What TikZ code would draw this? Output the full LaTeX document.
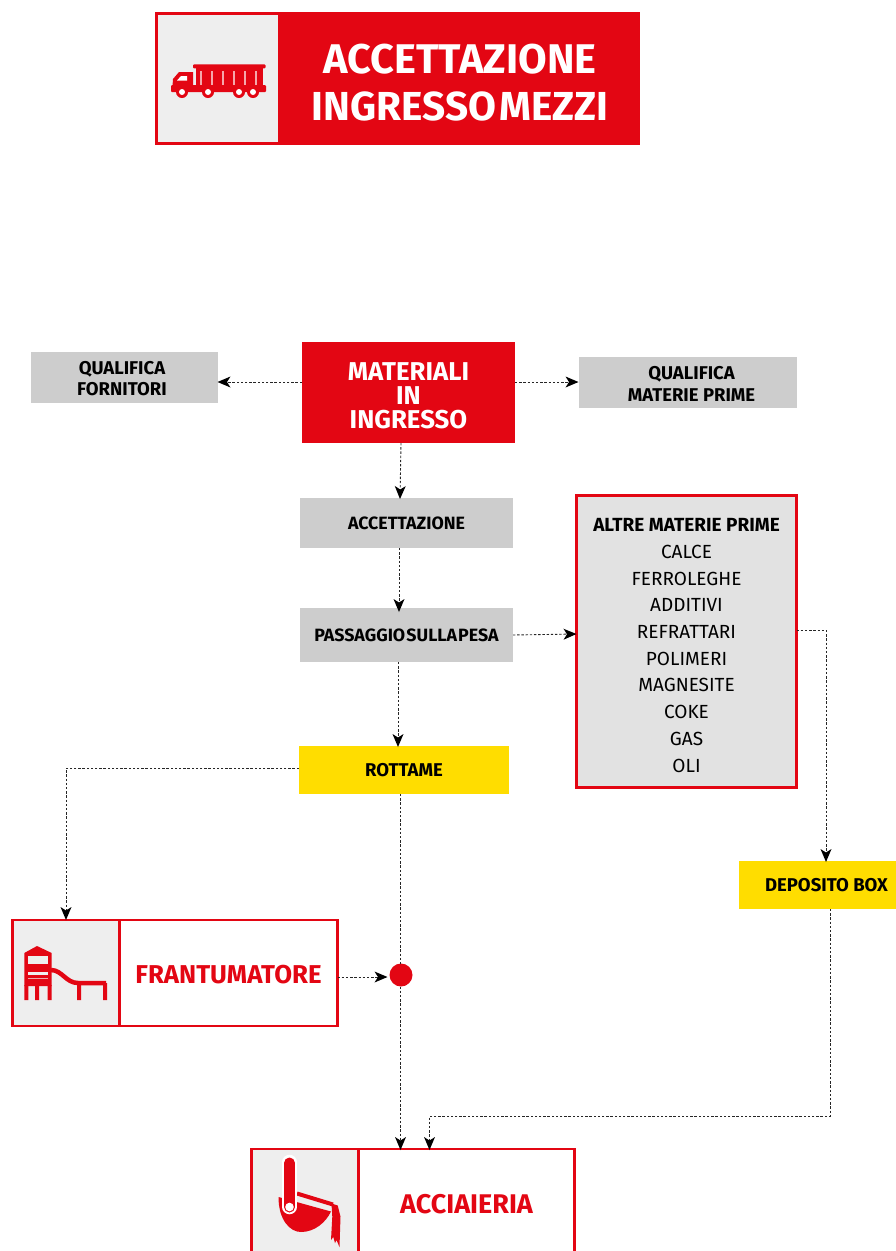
\documentclass[tikz,border=0pt]{standalone}
\usepackage{fontspec}
\setmainfont{Fira Sans}
\usetikzlibrary{arrows.meta}
\definecolor{rd}{HTML}{E30613}
\definecolor{ylw}{HTML}{FFDD00}
\definecolor{gry}{HTML}{CDCDCD}
\definecolor{lgry}{HTML}{E2E2E2}
\definecolor{icn}{HTML}{EEEEEE}
\newcommand{\dnrule}[1]{\rule{0pt}{#1pt}}
\tikzset{
 boxbase/.style={rectangle,inner sep=0pt,outer sep=0pt,align=center,anchor=north west},
 redbox/.style={boxbase,fill=rd,text=white,font=\bfseries\fontsize{25.8}{24}\selectfont},
 graybox/.style={boxbase,fill=gry,text=black,font=\bfseries\fontsize{18.5}{21.5}\selectfont},
 yellowbox/.style={boxbase,fill=ylw,text=black,font=\bfseries\fontsize{18.5}{20}\selectfont},
 iconbox/.style={boxbase,fill=icn,draw=rd,line width=2.6pt},
 framebox/.style={boxbase,fill=white,draw=rd,line width=2.6pt,text=rd,font=\bfseries\fontsize{25.8}{26}\selectfont},
 conn/.style={draw=black!85,line width=0.9pt,dash pattern=on 2.4pt off 1.8pt,-{Stealth[length=13pt,width=11pt,inset=3.5pt,color=black,fill=black,line width=0pt]}},
 connplain/.style={draw=black!85,line width=0.9pt,dash pattern=on 2.4pt off 1.8pt},
}
\begin{document}
\begin{tikzpicture}[x=1pt,y=-1pt]
\useasboundingbox (0,0) rectangle (896,1251);
\clip (0,0) rectangle (896,1251);
% header
\node[iconbox,minimum width=123pt,minimum height=130pt] (hicon) at (156.5,13.5) {};
\node[boxbase,fill=rd,text=white,minimum width=360pt,minimum height=133pt,font=\bfseries\fontsize{41.5}{47.5}\selectfont] (htitle) at (280,12) {\dnrule{38}ACCETTAZIONE\\{\fontsize{40.5}{47.5}\selectfont INGRESSO\hspace{-6pt} MEZZI}};
% truck
\fill[rd,rounded corners=1pt] (193,64.3) rectangle (265.5,68.3);
\fill[rd] (196,68) rectangle (263,86);
\fill[white] \foreach \x in {201,212,223,234,245,256} {(\x-0.7,71) rectangle (\x+0.7,85)};
\fill[rd,rounded corners=1pt] (171,85) rectangle (266,92);
\fill[rd] (172.5,86) -- (173,79) -- (179,72) -- (193,72) -- (193,86) -- cycle;
\fill[white] (177,80.5) -- (181,76) -- (187,76) -- (187,80.5) -- cycle;
\foreach \x in {182,208,239,253} {\fill[rd] (\x,92) circle (6); \fill[white] (\x,92) circle (3);}
% materiali
\node[redbox,minimum width=213pt,minimum height=101pt] (mat) at (302,342) {\dnrule{23.8}MATERIALI\\IN\\INGRESSO};
\node[graybox,minimum width=187pt,minimum height=51pt] (qf) at (30.5,351.5) {\hspace*{-4pt}\dnrule{15.8}QUALIFICA\\\hspace*{-4pt}FORNITORI};
\node[graybox,minimum width=218pt,minimum height=51pt] (qm) at (578.5,356.5) {\hspace*{8pt}\dnrule{16.8}QUALIFICA\\\hspace*{8pt}MATERIE PRIME};
\node[graybox,minimum width=213pt,minimum height=50pt,font=\bfseries\fontsize{17.8}{20}\selectfont] (acc) at (300,498) {ACCETTAZIONE};
\node[graybox,minimum width=213pt,minimum height=54pt,font=\bfseries\fontsize{17.8}{20}\selectfont] (pesa) at (300,608) {PASSAGGIO\hspace{-3pt} SULLA\hspace{-3pt} PESA};
\node[yellowbox,minimum width=210pt,minimum height=48pt] (rot) at (299,746) {ROTTAME};
\node[boxbase,fill=lgry,draw=rd,line width=2.6pt,minimum width=220pt,minimum height=292pt,text=black,font=\fontsize{19}{26.7}\selectfont] (altre) at (576.5,495.5) {\dnrule{21}{\bfseries ALTRE MATERIE PRIME}\\CALCE\\FERROLEGHE\\ADDITIVI\\REFRATTARI\\POLIMERI\\MAGNESITE\\COKE\\GAS\\OLI};
\node[yellowbox,minimum width=157pt,minimum height=48pt] (dep) at (739,861) {\hspace*{18pt}DEPOSITO BOX};
% frantumatore
\node[iconbox,minimum width=107pt,minimum height=106pt] (ficon) at (12.5,920) {};
\node[framebox,minimum width=218pt,minimum height=106pt] (ftxt) at (119.5,920) {\dnrule{21.8}FRANTUMATORE};
% slide
\fill[rd] (24.3,953) -- (37,946) -- (51.7,953) -- (51.7,986) -- (24.3,986) -- cycle;
\fill[icn] (28.3,955.5) rectangle (48,964);
\fill[icn] (28.3,972) rectangle (48,975);
\draw[icn!70!rd,line width=0.6pt] (28.3,978.5) -- (48,978.5);
\fill[rd] (24.3,985) rectangle (28.3,1000) (35,985) rectangle (39,1000) (47.5,985) rectangle (51.7,1000);
\draw[rd,line width=4.5pt] (51,970) .. controls (62,970) and (66,983) .. (78,983) -- (106,983);
\fill[rd] (77,983) rectangle (81,1000) (103,983) rectangle (107,1000);
% acciaieria
\node[iconbox,minimum width=107pt,minimum height=120pt] (aicon) at (251.5,1149) {};
\node[framebox,minimum width=216pt,minimum height=110pt,font=\bfseries\fontsize{27}{26}\selectfont] (atxt) at (358.5,1149) {ACCIAIERIA};
% ladle
\fill[rd] (278.5,1197) .. controls (278.5,1220) and (290,1232) .. (301,1232) .. controls (315,1232) and (326,1222) .. (331,1211.5) -- cycle;
\draw[rd,line width=4pt] (297,1193.5) -- (333,1204.5);
\fill[rd] (331.5,1203.5) -- (337.7,1205.5) -- (340.5,1216.7) -- (339.5,1247) -- (336.5,1240) -- (335,1243) -- (333.3,1237) -- (331,1240) -- (332.3,1216.7) -- cycle;
\draw[white,line width=14.5pt,line cap=round] (289.5,1162) -- (289.5,1207);
\draw[rd,line width=11pt,line cap=round] (289.5,1163) -- (289.5,1207);
\fill[white] (289.5,1207) circle (4.3);
% dot
\node[circle,fill=rd,minimum size=23pt,inner sep=0pt,outer sep=0pt] (dot) at (401,975) {};
% connectors
\draw[conn] ([yshift=10.5pt]mat.west) -- ([yshift=-5pt]qf.east);
\draw[conn] ([yshift=10.5pt]mat.east) -- (qm.west);
\draw[conn] ([xshift=-7.5pt]mat.south) -- ([xshift=-6.5pt,yshift=-1pt]acc.north);
\draw[conn] ([xshift=-7.5pt]acc.south) -- ([xshift=-7.5pt,yshift=-4pt]pesa.north);
\draw[conn] ([xshift=-8.5pt]pesa.south) -- ([xshift=-6pt,yshift=-1pt]rot.north);
\draw[conn] (pesa.east) -- ([yshift=7.5pt]altre.west);
\draw[conn] ([yshift=2pt]rot.west) -| (ficon.north);
\draw[connplain] ([xshift=-3.5pt]rot.south) -- ([xshift=-0.5pt]dot.north);
\draw[conn] ([xshift=-0.5pt]dot.south) -- ([xshift=-66pt,yshift=-1pt]atxt.north);
\draw[conn] ([yshift=-4pt]ftxt.east) -- ([xshift=-2pt,yshift=-2pt]dot.west);
\draw[conn] ([yshift=11.5pt]altre.east) -| ([xshift=8.5pt,yshift=-1pt]dep.north);
\draw[conn] ([xshift=12.5pt]dep.south) -- ++(0,207) -| ([xshift=-37pt,yshift=-1pt]atxt.north);
\end{tikzpicture}
\end{document}
